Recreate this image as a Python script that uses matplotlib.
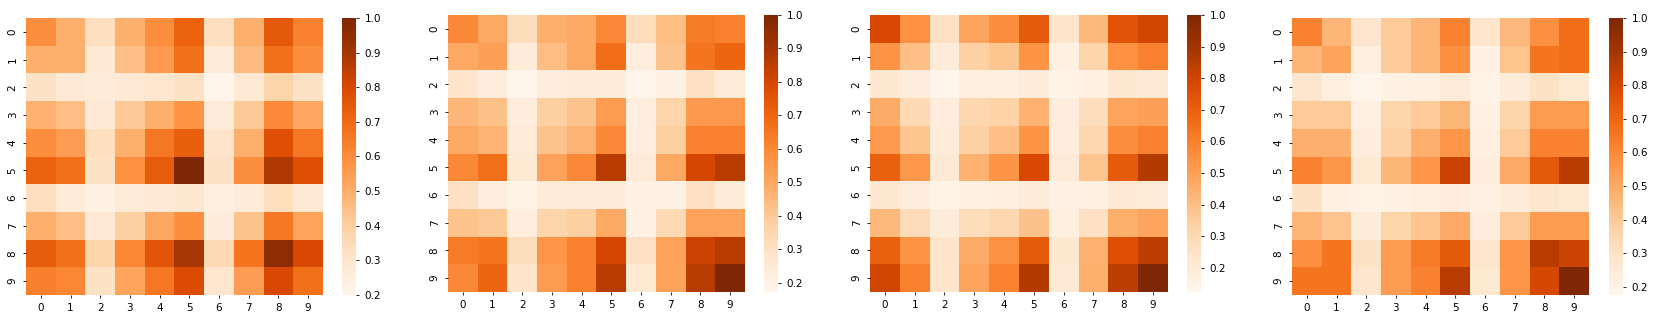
import numpy as np
import matplotlib
matplotlib.use("Agg")
import matplotlib.pyplot as plt
import seaborn as sns

# --- values (rows 0..9, cols 0..9) ---
heat_a = [
    [0.60, 0.50, 0.33, 0.50, 0.60, 0.72, 0.33, 0.50, 0.75, 0.63],
    [0.50, 0.50, 0.28, 0.45, 0.56, 0.68, 0.27, 0.46, 0.68, 0.60],
    [0.32, 0.28, 0.26, 0.28, 0.30, 0.32, 0.20, 0.28, 0.38, 0.32],
    [0.49, 0.45, 0.28, 0.42, 0.50, 0.58, 0.27, 0.42, 0.61, 0.52],
    [0.60, 0.55, 0.33, 0.50, 0.66, 0.73, 0.31, 0.50, 0.78, 0.66],
    [0.72, 0.68, 0.32, 0.59, 0.74, 1.00, 0.32, 0.60, 0.88, 0.78],
    [0.33, 0.27, 0.23, 0.27, 0.28, 0.29, 0.24, 0.26, 0.34, 0.28],
    [0.50, 0.45, 0.28, 0.40, 0.52, 0.60, 0.26, 0.44, 0.66, 0.53],
    [0.74, 0.68, 0.38, 0.62, 0.76, 0.90, 0.36, 0.67, 0.96, 0.80],
    [0.64, 0.62, 0.32, 0.53, 0.66, 0.79, 0.30, 0.55, 0.80, 0.68],
]
heat_b = [
    [0.60, 0.50, 0.32, 0.48, 0.50, 0.60, 0.32, 0.44, 0.64, 0.62],
    [0.50, 0.53, 0.24, 0.44, 0.50, 0.68, 0.22, 0.42, 0.66, 0.70],
    [0.28, 0.23, 0.173, 0.23, 0.24, 0.24, 0.18, 0.20, 0.30, 0.25],
    [0.46, 0.43, 0.23, 0.38, 0.42, 0.54, 0.22, 0.36, 0.55, 0.55],
    [0.50, 0.47, 0.25, 0.42, 0.47, 0.60, 0.22, 0.38, 0.62, 0.62],
    [0.60, 0.67, 0.26, 0.52, 0.60, 0.86, 0.25, 0.50, 0.80, 0.86],
    [0.30, 0.22, 0.19, 0.24, 0.24, 0.24, 0.20, 0.20, 0.30, 0.24],
    [0.42, 0.40, 0.22, 0.36, 0.38, 0.50, 0.20, 0.34, 0.52, 0.52],
    [0.64, 0.66, 0.32, 0.56, 0.62, 0.80, 0.30, 0.52, 0.82, 0.86],
    [0.60, 0.70, 0.28, 0.54, 0.62, 0.86, 0.26, 0.52, 0.86, 1.00],
]
heat_c = [
    [0.78, 0.55, 0.26, 0.48, 0.56, 0.72, 0.24, 0.42, 0.74, 0.80],
    [0.54, 0.40, 0.19, 0.34, 0.38, 0.54, 0.16, 0.32, 0.55, 0.60],
    [0.22, 0.18, 0.124, 0.17, 0.17, 0.19, 0.14, 0.16, 0.22, 0.21],
    [0.46, 0.30, 0.18, 0.31, 0.33, 0.44, 0.18, 0.28, 0.48, 0.50],
    [0.52, 0.38, 0.19, 0.34, 0.40, 0.54, 0.18, 0.31, 0.56, 0.60],
    [0.70, 0.53, 0.21, 0.44, 0.54, 0.78, 0.20, 0.38, 0.72, 0.86],
    [0.22, 0.18, 0.14, 0.16, 0.17, 0.19, 0.15, 0.16, 0.21, 0.20],
    [0.42, 0.29, 0.19, 0.28, 0.31, 0.39, 0.17, 0.26, 0.45, 0.48],
    [0.70, 0.54, 0.24, 0.46, 0.55, 0.72, 0.22, 0.44, 0.76, 0.84],
    [0.80, 0.60, 0.24, 0.48, 0.59, 0.86, 0.21, 0.45, 0.84, 1.00],
]
heat_d = [
    [0.62, 0.46, 0.28, 0.40, 0.46, 0.62, 0.28, 0.45, 0.58, 0.68],
    [0.46, 0.52, 0.22, 0.40, 0.46, 0.58, 0.20, 0.42, 0.66, 0.68],
    [0.28, 0.22, 0.176, 0.20, 0.21, 0.25, 0.19, 0.24, 0.30, 0.26],
    [0.40, 0.40, 0.21, 0.36, 0.40, 0.46, 0.20, 0.36, 0.54, 0.54],
    [0.48, 0.48, 0.23, 0.38, 0.48, 0.56, 0.22, 0.40, 0.62, 0.62],
    [0.62, 0.56, 0.26, 0.46, 0.56, 0.82, 0.23, 0.50, 0.74, 0.86],
    [0.30, 0.21, 0.19, 0.20, 0.22, 0.23, 0.20, 0.24, 0.28, 0.26],
    [0.46, 0.42, 0.24, 0.36, 0.42, 0.50, 0.23, 0.40, 0.54, 0.54],
    [0.58, 0.66, 0.30, 0.54, 0.64, 0.74, 0.28, 0.56, 0.86, 0.82],
    [0.66, 0.66, 0.28, 0.54, 0.62, 0.86, 0.26, 0.56, 0.80, 1.00],
]
heats = [heat_a, heat_b, heat_c, heat_d]

W, H = 1656, 318
fig = plt.figure(figsize=(W / 100, H / 100), dpi=100)

# pixel boxes: (ax_left, ax_right, top, bottom, cbar_left, cbar_right)
boxes = [
    (26, 323, 18, 295, 342, 356),
    (448, 745, 15, 292, 764, 778),
    (870, 1168, 15, 292, 1187, 1201),
    (1292, 1589, 18, 295, 1609, 1623),
]

for data, (x0, x1, top, bot, c0, c1) in zip(heats, boxes):
    ax = fig.add_axes([x0 / W, 1 - bot / H, (x1 - x0) / W, (bot - top) / H])
    cax = fig.add_axes([c0 / W, 1 - bot / H, (c1 - c0) / W, (bot - top) / H])
    sns.heatmap(np.array(data), ax=ax, cbar_ax=cax, cmap="Oranges")
    ax.tick_params(labelsize=7.5, length=2.5, width=0.6)
    cax.tick_params(labelsize=7.5, length=2.5, width=0.6)

fig.savefig("out.png", dpi=100)
